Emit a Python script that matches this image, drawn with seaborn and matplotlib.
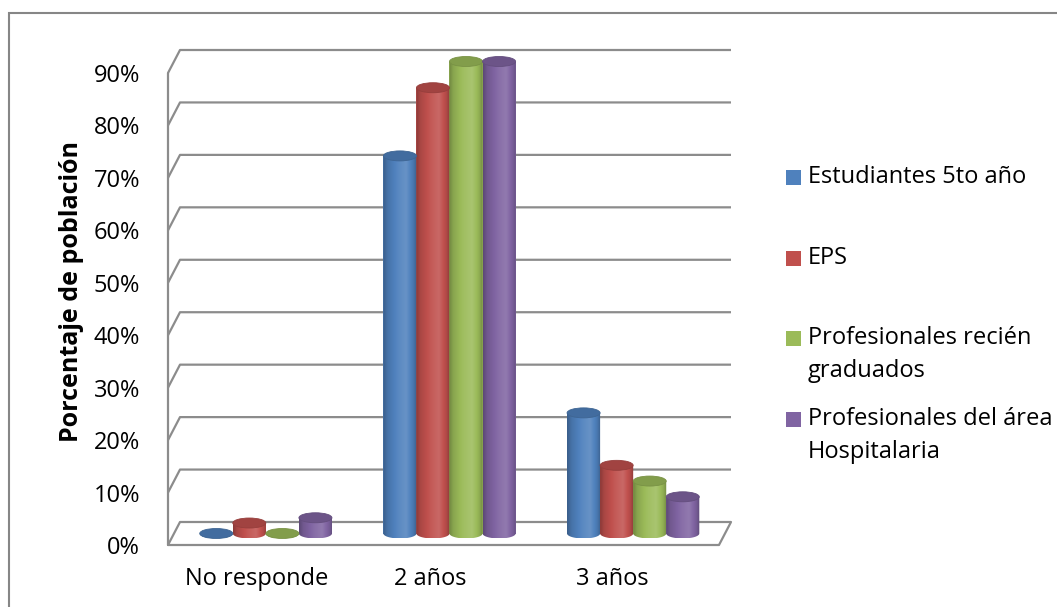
import numpy as np
import pandas as pd
import matplotlib
matplotlib.use("Agg")
import matplotlib.pyplot as plt
import matplotlib.transforms as mtransforms
from matplotlib.patches import Ellipse, PathPatch, Rectangle
from matplotlib.path import Path
from matplotlib.colors import to_rgb
import seaborn as sns

# ---- data -------------------------------------------------------------
categories = ["No responde", "2 años", "3 años"]
groups = [
    "Estudiantes 5to año",
    "EPS",
    "Profesionales recién\ngraduados",
    "Profesionales del área\nHospitalaria",
]
estudiantes = [0, 72, 23]
eps = [2, 85, 13]
recien_graduados = [0, 90, 10]
area_hospitalaria = [3, 90, 7]
yticks = [0, 10, 20, 30, 40, 50, 60, 70, 80, 90]
ytick_labels = [f"{v}%" for v in yticks]
colors = ["#4F81BD", "#C0504D", "#9BBB59", "#8064A2"]

series = [estudiantes, eps, recien_graduados, area_hospitalaria]
df = pd.DataFrame(
    [(c, g, v) for g, vals in zip(groups, series) for c, v in zip(categories, vals)],
    columns=["respuesta", "grupo", "porcentaje"],
)

# ---- figure -----------------------------------------------------------
sns.set_theme(style="white")
plt.rcParams["font.family"] = ["Open Sans", "DejaVu Sans"]

W, H, DPI = 1057, 607, 100
fig = plt.figure(figsize=(W / DPI, H / DPI), dpi=DPI)
fig.patch.set_facecolor("white")

# front plane of the 3-D box (pixel positions)
fx0, fx1 = 168, 719
fy0, fy1 = 545, 73
ax = fig.add_axes([fx0 / W, (H - fy0) / H, (fx1 - fx0) / W, (fy0 - fy1) / H])
ax.set_facecolor("none")

sns.barplot(
    data=df, x="respuesta", y="porcentaje", hue="grupo",
    order=categories, hue_order=groups, palette=colors,
    width=0.72, saturation=1, edgecolor="none", legend=False, ax=ax,
)

XMIN, XMAX, YMAX = -0.5, 2.5, 90
ax.set_xlim(XMIN, XMAX)
ax.set_ylim(0, YMAX)

# depth of the box: 12 px right, 23 px up
px_x = (fx1 - fx0) / (XMAX - XMIN)
px_y = (fy0 - fy1) / YMAX
DX, DY = 12 / px_x, 23 / px_y

grid_color = "#8C8C8C"
lw = 1.6
for y in yticks:
    ax.plot([XMIN, XMIN + DX, XMAX + DX], [y, y + DY, y + DY],
            color=grid_color, lw=lw, clip_on=False, zorder=1,
            solid_capstyle="butt")
ax.plot([XMIN, XMIN], [0, YMAX], color=grid_color, lw=lw, clip_on=False, zorder=1)
ax.plot([XMIN, XMAX, XMAX + DX], [0, 0, DY], color=grid_color, lw=lw,
        clip_on=False, zorder=1)

# ---- cylinders (placed half way into the box) -------------------------
mid = mtransforms.ScaledTranslation(6 / DPI, 11.5 / DPI, fig.dpi_scale_trans)
tr_mid = ax.transData + mid
eh = 10 / px_y  # ellipse height in data units


def shade(rgb, f):
    rgb = np.asarray(rgb)
    if f <= 1:
        return rgb * f
    return rgb + (1 - rgb) * (f - 1)


prof_t = [0.0, 0.12, 0.45, 0.68, 0.9, 1.0]
prof_f = [0.72, 0.88, 1.06, 1.14, 0.92, 0.74]
tt = np.linspace(0, 1, 96)
ff = np.interp(tt, prof_t, prof_f)

for p in list(ax.patches):
    x, w, h = p.get_x(), p.get_width(), p.get_height()
    if not np.isfinite(h):
        continue
    base = to_rgb(p.get_facecolor())
    p.set_transform(tr_mid)
    p.set_zorder(2)
    p.set_clip_on(False)
    cx = x + w / 2

    theta = np.linspace(np.pi, 2 * np.pi, 40)
    verts = [(x, h), (x, 0)]
    verts += list(zip(cx + w / 2 * np.cos(theta), eh / 2 * np.sin(theta)))
    verts += [(x + w, 0), (x + w, h), (x, h)]
    body = Path(verts, closed=True)

    grad = np.array([[shade(base, f) for f in ff]])
    im = ax.imshow(grad, extent=(x, x + w, -eh / 2, max(h, 0.0)),
                   aspect="auto", interpolation="bilinear", zorder=3)
    im.set_transform(tr_mid)
    im.set_clip_box(fig.bbox)
    im.set_clip_path(PathPatch(body, transform=tr_mid))

    cap = Ellipse((cx, h), w, eh, facecolor=shade(base, 0.84),
                  edgecolor=shade(base, 0.78), lw=0.6, transform=tr_mid,
                  zorder=4, clip_on=False)
    ax.add_patch(cap)

ax.set_xlim(XMIN, XMAX)
ax.set_ylim(0, YMAX)

# ---- axes text ---------------------------------------------------------
for s in ax.spines.values():
    s.set_visible(False)
ax.set_yticks(yticks)
ax.set_yticklabels(ytick_labels)
ax.tick_params(axis="y", length=0, pad=20, labelsize=17, labelcolor="black")
ax.tick_params(axis="x", length=0, pad=16, labelsize=17, labelcolor="black")
ax.set_xlabel("")
ax.set_ylabel("Porcentaje de población", fontsize=18, fontweight="bold", color="black")
ax.yaxis.set_label_coords((84 - fx0) / (fx1 - fx0), (fy0 - 292) / (fy0 - fy1))
ax.grid(False)

# category labels sit slightly left under the perspective floor
for lab, shift in zip(ax.get_xticklabels(), [-3, -13, -15]):
    lab.set_transform(lab.get_transform() +
                      mtransforms.ScaledTranslation(shift / DPI, 0, fig.dpi_scale_trans))

# ---- legend -------------------------------------------------------------
legend_rows = [177, 258, 338, 419]
for color, label, cy in zip(colors, groups, legend_rows):
    fig.add_artist(Rectangle((786 / W, (H - cy - 7.5) / H), 15 / W, 15 / H,
                             facecolor=color, edgecolor="none",
                             transform=fig.transFigure))
    nlines = label.count("\n") + 1
    tcy = cy + (nlines - 1) * 33 / 2
    fig.text(808 / W, (H - tcy) / H, label, va="center", ha="left",
             fontsize=17, linespacing=1.5, color="black")

# ---- chart border -------------------------------------------------------
fig.add_artist(Rectangle((8.5 / W, -0.05), 2, (H - 12.5) / H + 0.05,
                         fill=False, edgecolor="#868686", lw=1.5,
                         transform=fig.transFigure))

fig.savefig("out.png", dpi=DPI, facecolor="white")
